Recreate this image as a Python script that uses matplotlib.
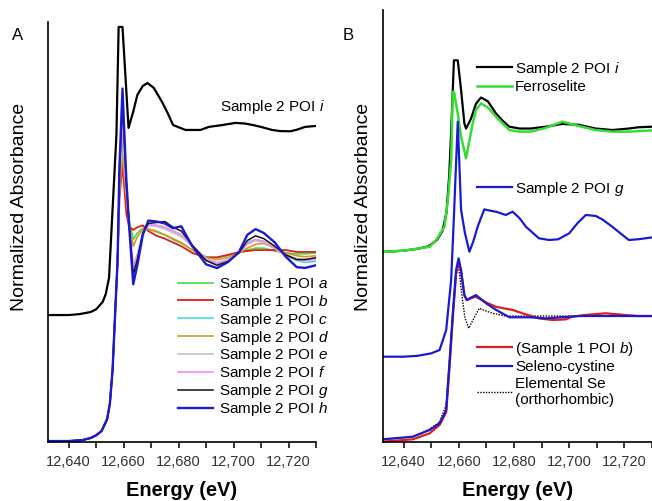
import matplotlib
matplotlib.use('Agg')
import matplotlib.pyplot as plt
from matplotlib.ticker import MultipleLocator, StrMethodFormatter
import numpy as np

plt.rcParams['font.family'] = ['Liberation Sans', 'DejaVu Sans']
plt.rcParams['mathtext.fontset'] = 'custom'
plt.rcParams['mathtext.rm'] = 'Liberation Sans'
plt.rcParams['mathtext.it'] = 'Liberation Sans:italic'

# ---- Panel A data (normalized absorbance) ----
# shared pre-edge / edge of the 8 lower spectra
energy_edge_A = [12632.5, 12640, 12645, 12648, 12650, 12652, 12654, 12655, 12656, 12657, 12657.8]
edge_A = [0.005, 0.005, 0.01, 0.021, 0.035, 0.058, 0.12, 0.2, 0.38, 0.70, 0.95]
energy_post_A = [12658.5, 12659.6, 12661, 12662, 12663.5, 12665, 12667, 12669, 12672, 12675, 12678,
                 12681, 12685, 12690, 12694, 12698, 12702, 12705, 12708, 12711, 12715, 12719, 12723,
                 12726, 12730]
s1_a = [1.34, 1.60, 1.30, 1.17, 1.065, 1.10, 1.125, 1.12, 1.105, 1.09, 1.065, 1.045, 1.01, 0.975,
        0.97, 0.98, 0.995, 1.01, 1.02, 1.02, 1.005, 0.995, 0.99, 0.99, 0.995]
s1_b = [1.28, 1.46, 1.20, 1.133, 1.116, 1.13, 1.14, 1.11, 1.085, 1.07, 1.05, 1.03, 0.995, 0.97,
        0.972, 0.985, 1.0, 1.005, 1.01, 1.01, 1.01, 1.01, 1.0, 1.0, 1.0]
s2_c = [1.40, 1.72, 1.34, 1.15, 0.90, 0.97, 1.10, 1.14, 1.14, 1.13, 1.11, 1.09, 1.03, 0.96,
        0.94, 0.955, 0.995, 1.05, 1.065, 1.055, 1.02, 0.98, 0.955, 0.945, 0.95]
s2_d = [1.30, 1.52, 1.28, 1.15, 1.03, 1.08, 1.12, 1.12, 1.11, 1.09, 1.07, 1.05, 1.01, 0.97,
        0.96, 0.97, 0.995, 1.02, 1.04, 1.045, 1.02, 0.995, 0.98, 0.975, 0.98]
s2_e = [1.38, 1.66, 1.32, 1.15, 0.93, 0.99, 1.10, 1.14, 1.135, 1.12, 1.10, 1.08, 1.03, 0.965,
        0.945, 0.96, 0.995, 1.04, 1.06, 1.05, 1.02, 0.985, 0.965, 0.96, 0.965]
s2_f = [1.39, 1.68, 1.33, 1.14, 0.92, 0.98, 1.10, 1.145, 1.14, 1.13, 1.11, 1.09, 1.035, 0.965,
        0.94, 0.955, 0.995, 1.045, 1.065, 1.055, 1.02, 0.98, 0.96, 0.955, 0.96]
s2_g = [1.42, 1.78, 1.36, 1.15, 0.88, 0.96, 1.10, 1.15, 1.155, 1.16, 1.13, 1.11, 1.035, 0.955,
        0.93, 0.95, 0.995, 1.06, 1.085, 1.07, 1.03, 0.985, 0.96, 0.96, 0.97]
s2_h = [1.45, 1.86, 1.38, 1.14, 0.83, 0.93, 1.09, 1.165, 1.16, 1.15, 1.125, 1.135, 1.03, 0.935,
        0.915, 0.947, 1.0, 1.09, 1.12, 1.10, 1.05, 0.975, 0.92, 0.916, 0.93]

energy_i_A = [12632.5, 12640, 12644, 12648, 12650, 12652.4, 12653.5, 12654.7, 12657.4, 12658.2,
              12659.6, 12661.8, 12663.5, 12665, 12667, 12668.7, 12671, 12674, 12676, 12678,
              12682.5, 12688, 12691, 12696, 12700.7, 12704, 12707, 12710, 12714, 12717, 12720.7,
              12723, 12726, 12730]
s2_i_A = [0, 0, 0.005, 0.016, 0.03, 0.069, 0.11, 0.195, 0.95, 1.516, 1.516, 0.985, 1.07, 1.158,
          1.206, 1.221, 1.195, 1.121, 1.064, 1.0, 0.974, 0.974, 0.99, 1.0, 1.011, 1.008, 1.0,
          0.99, 0.974, 0.968, 0.967, 0.975, 0.99, 0.995]
offset_i_A = 0.668

labels_A = ['Sample 1 POI $\\mathit{a}$', 'Sample 1 POI $\\mathit{b}$', 'Sample 2 POI $\\mathit{c}$',
            'Sample 2 POI $\\mathit{d}$', 'Sample 2 POI $\\mathit{e}$', 'Sample 2 POI $\\mathit{f}$',
            'Sample 2 POI $\\mathit{g}$', 'Sample 2 POI $\\mathit{h}$']
colors_A = ['#44dd44', '#e01c1c', '#44dede', '#d6952e', '#c4c4c4', '#f08cf0', '#111111', '#1a1ad0']
widths_A = [1.2, 1.3, 1.2, 1.2, 1.2, 1.2, 1.1, 1.7]

# ---- Panel B data ----
energy_i_B = [12632.5, 12640, 12645, 12649, 12652, 12654, 12655.5, 12656.5, 12657.2, 12658.2,
              12659.6, 12660.8, 12662, 12662.6, 12664.4, 12666.2, 12668, 12670.5, 12673.5, 12676,
              12678.3, 12682, 12686, 12691.5, 12697.5, 12703.5, 12709.6, 12715.6, 12721.6, 12725, 12730]
s2_i_B = [-0.015, -0.005, 0.01, 0.03, 0.08, 0.15, 0.3, 0.6, 0.95, 1.53, 1.53, 1.29, 1.02, 0.98,
          1.06, 1.18, 1.23, 1.2, 1.1, 1.04, 0.995, 0.98, 0.98, 0.995, 1.017, 1.01, 0.98, 0.968,
          0.98, 0.99, 0.995]
energy_ferro = [12632.5, 12640, 12645.8, 12649.4, 12651.8, 12654.8, 12656, 12657.2, 12657.8,
                12658.3, 12659.6, 12660.8, 12662.6, 12665, 12666.2, 12668, 12670.5, 12673.5,
                12678.3, 12682, 12686, 12691.5, 12697.5, 12703.5, 12709.6, 12715.6, 12721.6, 12730]
ferroselite = [-0.015, -0.005, 0.014, 0.027, 0.081, 0.188, 0.40, 0.72, 1.277, 1.27, 1.1, 0.914,
               0.74, 1.02, 1.13, 1.183, 1.15, 1.075, 0.968, 0.955, 0.955, 0.985, 1.035, 1.0, 0.968,
               0.955, 0.955, 0.965]
offset_i_B = 1.548

energy_g_B = [12632.5, 12640, 12645, 12650, 12653, 12655.4, 12657.2, 12658, 12659.6, 12660.8,
              12662.2, 12663.8, 12665.2, 12666.8, 12669.2, 12671.5, 12673.5, 12677, 12679.5, 12682,
              12684.3, 12689, 12692.7, 12696, 12700, 12703, 12706, 12709.6, 12712, 12715.6, 12719,
              12721.6, 12725, 12730]
s2_g_B = [0.003, 0.003, 0.01, 0.03, 0.057, 0.218, 0.621, 1.025, 1.898, 1.186, 1.0, 0.85, 0.93,
          1.051, 1.191, 1.18, 1.172, 1.146, 1.172, 1.12, 1.051, 0.958, 0.944, 0.95, 0.998, 1.08,
          1.146, 1.138, 1.11, 1.051, 0.99, 0.944, 0.95, 0.965]
offset_g_B = 0.685

energy_b_B = [12632.5, 12643.4, 12649.4, 12653, 12655.4, 12656.6, 12657.8, 12659, 12659.9, 12660.8,
              12662, 12662.9, 12664.5, 12666.2, 12669.9, 12673.5, 12679.5, 12683, 12689, 12693.9,
              12698.7, 12701, 12706, 12713.2, 12720.4, 12725, 12730]
s1_b_B = [0.003, 0.022, 0.07, 0.137, 0.24, 0.6, 1.0, 1.36, 1.45, 1.37, 1.18, 1.145, 1.16, 1.172,
          1.125, 1.09, 1.065, 1.038, 0.997, 0.984, 0.989, 1.01, 1.025, 1.038, 1.024, 1.016, 1.016]
energy_secys = [12632.5, 12643.4, 12649.4, 12653, 12655.4, 12656.6, 12657.8, 12659, 12659.9,
                12660.8, 12662, 12662.9, 12664, 12666.2, 12669.9, 12673.5, 12678.3, 12685.5,
                12691.5, 12703.5, 12715.6, 12730]
selenocystine = [0.022, 0.043, 0.097, 0.151, 0.258, 0.635, 1.038, 1.387, 1.481, 1.387, 1.185,
                 1.145, 1.16, 1.185, 1.118, 1.065, 1.006, 1.006, 0.997, 1.016, 1.016, 1.016]
energy_se = [12632.5, 12643, 12649, 12653, 12655.4, 12656.6, 12657.8, 12659, 12659.9, 12661,
             12662.2, 12663.6, 12665, 12667.4, 12670, 12672.2, 12677, 12730]
elemental_se = [0.02, 0.04, 0.1, 0.16, 0.3, 0.68, 1.05, 1.35, 1.42, 1.2, 1.0, 0.917, 0.98, 1.078,
                1.055, 1.038, 1.016, 1.016]

W, H = 652, 501
fig = plt.figure(figsize=(W / 100, H / 100), dpi=100)
axA = fig.add_axes([48 / W, 59 / H, 268 / W, 420 / H])
axB = fig.add_axes([383 / W, 59 / H, 269 / W, 432 / H])


def style(ax, ytop):
    ax.set_xlim(12632.5, 12730)
    ax.set_ylim(0, ytop)
    for s in ['top', 'right']:
        ax.spines[s].set_visible(False)
    for s in ['left', 'bottom']:
        ax.spines[s].set_linewidth(1.2)
    ax.set_yticks([])
    ax.xaxis.set_major_locator(MultipleLocator(20))
    ax.xaxis.set_minor_locator(MultipleLocator(10))
    ax.xaxis.set_major_formatter(StrMethodFormatter('{x:,.0f}'))
    ax.tick_params(axis='x', which='both', direction='out', length=4.5, width=1.1, pad=5,
                   labelsize=10.5, labelcolor='#333333')


# Panel A
energy_A = energy_edge_A + energy_post_A
for vals, lab, col, lw in zip([s1_a, s1_b, s2_c, s2_d, s2_e, s2_f, s2_g, s2_h], labels_A, colors_A, widths_A):
    axA.plot(energy_A, edge_A + vals, color=col, lw=lw, label=lab)
axA.plot(energy_i_A, np.array(s2_i_A) + offset_i_A, color='black', lw=1.6)
axA.text(12695.0, 1.764, 'Sample 2 POI $\\mathit{i}$', fontsize=11, va='center', ha='left')
style(axA, 2.21)
axA.legend(loc='upper left', bbox_to_anchor=(178 / W, 1 - 275 / H), bbox_transform=fig.transFigure,
           frameon=False, fontsize=11, handlelength=2.3, handletextpad=0.4, labelspacing=-0.01,
           borderpad=0, borderaxespad=0)

# Panel B
l_i, = axB.plot(energy_i_B, np.array(s2_i_B) + offset_i_B, color='black', lw=1.6,
                label='Sample 2 POI $\\mathit{i}$')
l_fe, = axB.plot(energy_ferro, np.array(ferroselite) + offset_i_B, color='#33dd33', lw=1.8,
                 label='Ferroselite')
l_g, = axB.plot(energy_g_B, np.array(s2_g_B) + offset_g_B, color='#1a1ad0', lw=1.6,
                label='Sample 2 POI $\\mathit{g}$')
l_se, = axB.plot(energy_se, elemental_se, color='black', lw=1.0, ls=(0, (1, 1)),
                 label='Elemental Se\n(orthorhombic)')
l_b, = axB.plot(energy_b_B, s1_b_B, color='#e01c1c', lw=1.6, label='(Sample 1 POI $\\mathit{b}$)')
l_sc, = axB.plot(energy_secys, selenocystine, color='#1a1ad0', lw=1.6, label='Seleno-cystine')
style(axB, 3.484)

leg_kw = dict(frameon=False, fontsize=11, handlelength=2.3, handletextpad=0.2, labelspacing=0.18,
              borderpad=0, borderaxespad=0, loc='upper left', bbox_transform=fig.transFigure)
leg1 = axB.legend(handles=[l_i, l_fe], bbox_to_anchor=(477 / W, 1 - 59.5 / H), **leg_kw)
axB.add_artist(leg1)
leg2 = axB.legend(handles=[l_g], bbox_to_anchor=(477 / W, 1 - 179.5 / H), **leg_kw)
axB.add_artist(leg2)
axB.legend(handles=[l_b, l_sc, l_se], bbox_to_anchor=(477 / W, 1 - 339.5 / H), **leg_kw)

# panel letters and axis titles
fig.text(18 / W, 1 - 35 / H, 'A', fontsize=12, ha='center', va='center')
fig.text(348 / W, 1 - 35 / H, 'B', fontsize=12, ha='center', va='center')
for xc in [20, 363]:
    fig.text(xc / W, 1 - 207 / H, 'Normalized Absorbance', fontsize=14, rotation=90,
             ha='center', va='center')
for xc in [182, 518]:
    fig.text(xc / W, 1 - 490 / H, 'Energy (eV)', fontsize=14.4, fontweight='bold',
             ha='center', va='center')

fig.savefig('out.png', dpi=100)
